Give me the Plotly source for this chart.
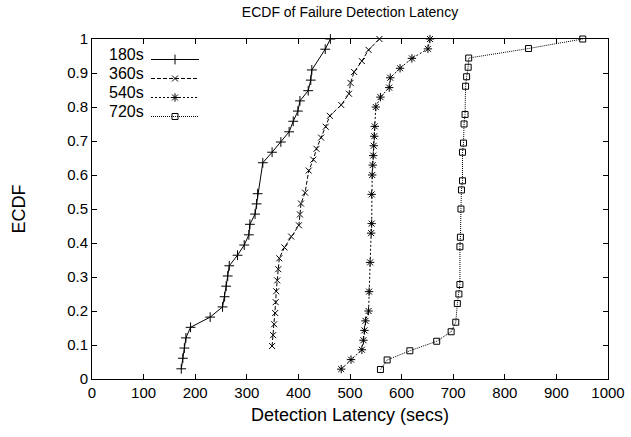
import plotly.graph_objects as go

# ---- data ----
series_names = ["180s", "360s", "540s", "720s"]

x_180 = [173, 176, 179, 182, 191, 229, 253, 257, 260, 263, 266, 282, 295, 304, 306,
         316, 319, 321, 331, 349, 366, 382, 390, 399, 403, 419, 424, 426, 452, 462]
y_180 = [0.030, 0.061, 0.091, 0.121, 0.152, 0.182, 0.212, 0.242, 0.273, 0.303, 0.333,
         0.364, 0.394, 0.424, 0.455, 0.485, 0.515, 0.545, 0.636, 0.667, 0.697, 0.727,
         0.758, 0.788, 0.818, 0.848, 0.879, 0.909, 0.970, 1.0]

x_360 = [349, 351, 353, 355, 356, 357, 359, 361, 363, 373, 386, 401, 403, 405, 413,
         420, 429, 435, 444, 453, 461, 483, 498, 501, 508, 523, 536, 557]
y_360 = [0.097, 0.129, 0.161, 0.194, 0.226, 0.258, 0.290, 0.323, 0.355, 0.387, 0.419,
         0.452, 0.484, 0.516, 0.548, 0.613, 0.645, 0.677, 0.710, 0.742, 0.774, 0.806,
         0.839, 0.871, 0.903, 0.935, 0.968, 1.0]

x_540 = [483, 502, 523, 526, 528, 530, 536, 537, 539, 541, 542, 542, 543, 544, 545,
         546, 547, 548, 550, 559, 576, 578, 597, 620, 651, 655]
y_540 = [0.029, 0.057, 0.086, 0.114, 0.143, 0.171, 0.200, 0.257, 0.343, 0.429, 0.457,
         0.543, 0.600, 0.629, 0.657, 0.686, 0.714, 0.743, 0.800, 0.829, 0.857, 0.886,
         0.914, 0.943, 0.971, 1.0]

x_720 = [559, 572, 616, 668, 696, 705, 708, 711, 713, 713, 714, 715, 716, 718, 718,
         720, 721, 723, 724, 726, 729, 730, 846, 951]
y_720 = [0.028, 0.056, 0.083, 0.111, 0.139, 0.167, 0.222, 0.250, 0.278, 0.389, 0.417,
         0.500, 0.556, 0.583, 0.667, 0.694, 0.750, 0.778, 0.861, 0.889, 0.917, 0.944,
         0.972, 1.0]

x_ticks = [0, 100, 200, 300, 400, 500, 600, 700, 800, 900, 1000]
y_ticks = [0, 0.1, 0.2, 0.3, 0.4, 0.5, 0.6, 0.7, 0.8, 0.9, 1]
y_tick_labels = ["0", "0.1", "0.2", "0.3", "0.4", "0.5", "0.6", "0.7", "0.8", "0.9", "1"]

FONT = "Liberation Sans, Arial, Helvetica, sans-serif"

styles = [
    dict(dash="solid", symbol="cross-thin", size=7),
    dict(dash="4px,2px", symbol="x-thin", size=6),
    dict(dash="2px,2px", symbol="asterisk", size=7),
    dict(dash="1px,1px", symbol="square-open", size=6),
]
data = [(x_180, y_180), (x_360, y_360), (x_540, y_540), (x_720, y_720)]

fig = go.Figure()
for name, (xs, ys), st in zip(series_names, data, styles):
    fig.add_trace(go.Scatter(
        x=xs, y=ys, mode="lines+markers", name="",
        line=dict(color="black", width=1, dash=st["dash"]),
        marker=dict(symbol=st["symbol"], size=st["size"], color="black",
                    line=dict(color="black", width=1)),
        cliponaxis=False,
    ))

PLOT_H = 340.5
ROW0 = 15.5    # px below the top of the plot area
ROW_STEP = 19.0
# legend labels drawn to the left of the legend samples (gnuplot style)
for i, name in enumerate(series_names):
    fig.add_annotation(
        xref="paper", yref="paper",
        x=(146 - 92) / 516, y=1 - (ROW0 + ROW_STEP * i) / PLOT_H,
        text=name, showarrow=False, xanchor="right", yanchor="middle",
        font=dict(family=FONT, size=16, color="black"),
    )

fig.update_layout(
    width=631, height=437,
    margin=dict(l=92, r=23, t=39, b=57.5, autoexpand=False),
    paper_bgcolor="white", plot_bgcolor="white",
    font=dict(family=FONT, size=15, color="black"),
    title=dict(text="ECDF of Failure Detection Latency", x=(92 + 258) / 631, xanchor="center",
               y=1 - 12 / 437, yanchor="middle", font=dict(size=14)),
    showlegend=True,
    legend=dict(x=(146 - 92) / 516, y=1 - (ROW0 - 9.5) / PLOT_H, xanchor="left", yanchor="top",
                bgcolor="rgba(0,0,0,0)", font=dict(size=10), itemwidth=48,
                tracegroupgap=0, borderwidth=0),
    xaxis=dict(range=[0, 1000], tickvals=x_ticks, ticks="inside", ticklen=5,
               showline=True, linecolor="black", linewidth=1, mirror="ticks",
               showgrid=False, zeroline=False, tickcolor="black", automargin=False,
               title=dict(text="Detection Latency (secs)", standoff=8)),
    yaxis=dict(range=[0, 1], tickvals=y_ticks, ticktext=y_tick_labels, ticks="inside",
               ticklen=5, showline=True, linecolor="black", linewidth=1, mirror="ticks",
               showgrid=False, zeroline=False, tickcolor="black", automargin=False,
               title=dict(text="ECDF", standoff=36)),
)

fig.write_html("out.html", config={"displayModeBar": False},
               post_script="document.body.style.margin='0';")
